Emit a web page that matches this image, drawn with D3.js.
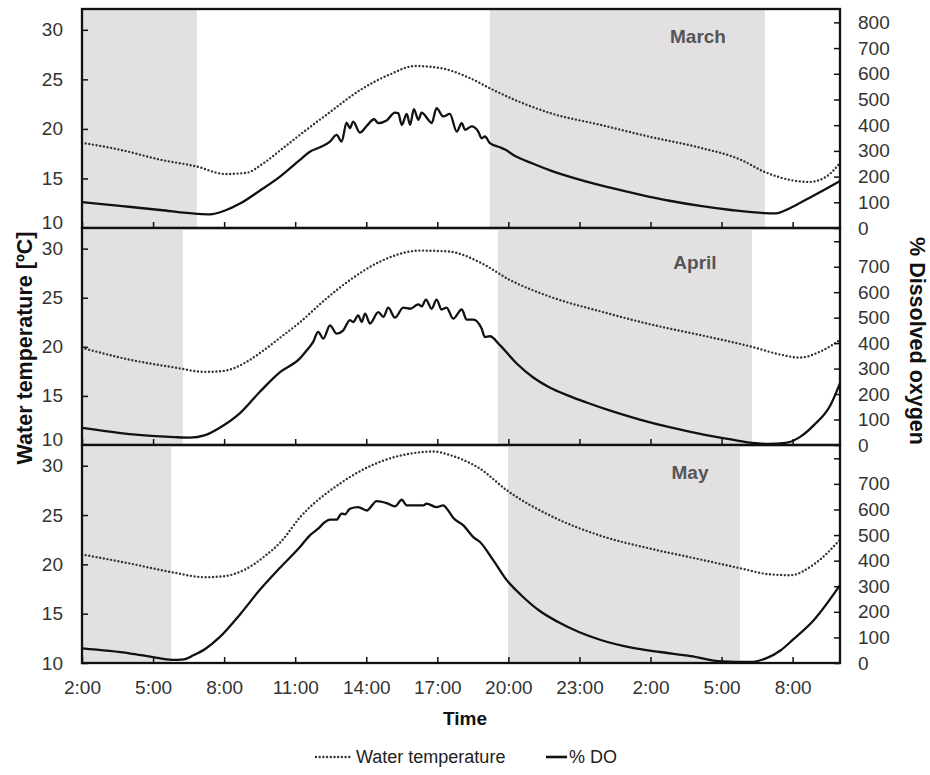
<!DOCTYPE html>
<html><head><meta charset="utf-8">
<script src="https://cdn.jsdelivr.net/npm/d3@7"></script>
<style>body{margin:0;background:#fff} text{font-family:"Liberation Sans",Arial,sans-serif}</style>
</head><body><svg id="c" width="930" height="775"></svg>
<script>
// ---------- data ----------
const months = ["March", "April", "May"];
const xTickHours = [0, 3, 6, 9, 12, 15, 18, 21, 24, 27, 30];
const xTickLabels = ["2:00","5:00","8:00","11:00","14:00","17:00","20:00","23:00","2:00","5:00","8:00"];
const tempTicks = [10, 15, 20, 25, 30];
const doTicks = [0, 100, 200, 300, 400, 500, 600, 700, 800];
const doLabelMax = [800, 700, 700];
// night (shaded) periods, hours since 2:00
const nightStart = [[0, 17.22], [0, 17.56], [0, 17.98]];
const nightEnd = [[4.85, 28.83], [4.26, 28.28], [3.77, 27.78]];

// March
const marchTempH = [0,1.6,3.3,4.85,6.04,6.9,7.7,8.4,9.2,10.47,11.73,13.0,14.06,15.1,16.4,17.22,18.5,19.76,21.9,23.98,26.1,27.8,28.83,29.9,30.7,31.4,32];
const marchTemp  = [18.6,17.9,16.9,16.2,15.45,15.55,16.6,17.9,19.4,21.7,23.9,25.5,26.35,26.15,25.1,24.1,22.7,21.6,20.4,19.2,18.1,16.9,15.65,14.85,14.65,15.15,16.55];
const marchDOH = [0,1.6,3.3,4.85,5.4,6.04,6.67,7.5,8.36,9.2,9.62,10.05,10.47,10.75,10.96,11.17,11.31,11.45,11.73,12.02,12.33,12.51,12.86,13.21,13.35,13.5,13.71,13.85,14.01,14.2,14.34,14.62,14.76,14.97,15.25,15.53,15.82,16.03,16.17,16.45,16.73,16.87,17.01,17.22,17.64,17.86,18.21,19.05,19.76,21.0,22.3,23.55,24.8,26.1,27.4,28.8,29.3,29.9,30.7,31.4,32];
const marchDO  = [101,86,70,55,53,68,95,145,200,265,297,314,336,362,336,410,388,414,371,397,423,408,418,449,447,401,444,401,462,421,449,421,408,466,434,444,375,408,382,395,375,349,356,330,314,305,284,250,224,188,157,130,106,86,70,58,57,78,117,152,183];

// April
const aprilTempH = [0,2.0,3.9,5.2,6.0,6.9,7.7,8.4,9.2,10.26,11.31,12.6,14.27,15.5,16.8,18.07,19.76,21.9,23.98,26.1,28.28,29.5,30.3,31.15,32];
const aprilTemp  = [19.9,18.7,17.9,17.45,17.55,18.4,19.7,21.0,22.5,24.8,26.8,28.7,29.8,29.7,28.6,26.8,25.1,23.6,22.3,21.2,20.0,19.2,18.9,19.5,20.7];
const aprilDOH = [0,2.0,3.9,4.56,5.2,5.8,6.67,7.5,8.36,9.2,9.49,9.76,9.97,10.19,10.47,10.75,11.03,11.31,11.45,11.66,11.81,11.95,12.16,12.51,12.72,12.93,13.21,13.56,13.85,14.2,14.34,14.52,14.76,14.97,15.18,15.39,15.67,16.03,16.24,16.52,16.87,17.01,17.22,17.64,18.35,19.05,19.76,20.5,21.3,22.3,23.55,24.8,26.1,27.4,28.3,29.0,29.7,30.3,30.9,31.6,32];
const aprilDO  = [67,43,31,29,39,67,125,208,286,340,372,405,444,418,470,437,450,490,483,509,483,516,477,522,503,539,500,539,535,552,544,571,535,571,532,539,496,532,492,492,457,424,427,392,320,265,225,195,167,135,100,70,44,22,8,4,8,31,78,157,243];

// May
const mayTempH = [0,2.0,3.8,5.2,6.0,6.9,7.7,8.4,9.2,10.9,12.7,14.06,14.8,15.5,16.8,17.94,19.76,21.9,23.98,26.1,27.8,29.0,29.9,30.9,32];
const mayTemp  = [21.0,20.1,19.2,18.7,18.8,19.5,20.8,22.3,24.75,28.2,30.5,31.3,31.45,31.1,29.7,27.5,24.95,22.9,21.6,20.5,19.6,19.0,18.9,20.0,22.5];
const mayDOH = [0,2.0,3.0,3.8,4.3,4.7,5.2,5.8,6.67,7.5,8.36,9.2,9.62,9.97,10.26,10.47,10.75,10.96,11.1,11.31,11.66,12.02,12.44,12.86,13.21,13.5,13.71,14.41,14.55,14.97,15.25,15.46,15.67,16.1,16.52,16.8,17.36,17.93,18.6,19.3,20.1,21.0,21.9,23.2,24.4,25.7,27.0,28.2,28.9,29.5,30.0,30.9,32];
const mayDO  = [57,38,23,12,14,30,55,100,190,285,372,453,499,525,551,560,560,584,581,603,609,596,633,625,612,638,616,616,623,609,616,596,568,538,492,473,402,324,260,205,160,120,90,60,43,27,6,4,19,50,90,168,304];

const tempH = [marchTempH, aprilTempH, mayTempH];
const tempV = [marchTemp, aprilTemp, mayTemp];
const doH = [marchDOH, aprilDOH, mayDOH];
const doV = [marchDO, aprilDO, mayDO];

// ---------- layout ----------
const svg = d3.select("#c");
const L = 82, R = 840;
const panelTop = [9, 228, 445], panelBot = [228, 445, 663];
const titleX = [698, 695, 690], titleY = [43, 269, 479];
const x = d3.scaleLinear().domain([0, 32]).range([L, R]);
const labelColor = "#333";
const FONT = "Liberation Sans, Arial, sans-serif";

months.forEach((m, i) => {
  const g = svg.append("g");
  const yT = d3.scaleLinear().domain([10, 32.1]).range([panelBot[i], panelTop[i]]);
  const yD = d3.scaleLinear().domain([0, 852]).range([panelBot[i], panelTop[i]]);

  // night shading
  nightStart[i].forEach((s, k) => {
    g.append("rect").attr("x", x(s)).attr("y", panelTop[i])
      .attr("width", x(nightEnd[i][k]) - x(s)).attr("height", panelBot[i] - panelTop[i])
      .attr("fill", "#e3e0e1");
  });

  // lines
  const tData = tempH[i].map((h, k) => [h, tempV[i][k]]);
  const dData = doH[i].map((h, k) => [h, doV[i][k]]);
  g.append("path").datum(tData)
    .attr("d", d3.line().x(d => x(d[0])).y(d => yT(d[1])).curve(d3.curveMonotoneX))
    .attr("fill", "none").attr("stroke", "#333").attr("stroke-width", 2.4)
    .attr("stroke-dasharray", "0,3.7").attr("stroke-linecap", "round");
  g.append("path").datum(dData)
    .attr("d", d3.line().x(d => x(d[0])).y(d => yD(d[1])).curve(d3.curveMonotoneX))
    .attr("fill", "none").attr("stroke", "#111").attr("stroke-width", 2.3)
    .attr("stroke-linejoin", "round");

  // left axis (ticks inside)
  const la = g.append("g").attr("transform", `translate(${L},0)`)
    .call(d3.axisLeft(yT).tickValues(tempTicks).tickSize(-6).tickPadding(19).tickFormat(d3.format("d")));
  la.select(".domain").remove();
  la.selectAll("line").attr("stroke", "#111").attr("stroke-width", 1.5);
  la.selectAll("text").attr("font-size", 19).attr("fill", labelColor).attr("font-family", FONT)
    .attr("dy", d => (d === 10 && i < 2) ? "0.0em" : "0.32em");

  // right axis
  const ra = g.append("g").attr("transform", `translate(${R},0)`)
    .call(d3.axisRight(yD).tickValues(doTicks).tickSize(-6).tickPadding(18)
      .tickFormat(d => d <= doLabelMax[i] ? d : ""));
  ra.select(".domain").remove();
  ra.selectAll("line").attr("stroke", "#111").attr("stroke-width", 1.5);
  ra.selectAll("text").attr("font-size", 19).attr("fill", labelColor).attr("font-family", FONT);

  // bottom ticks (inside)
  const ba = g.append("g").attr("transform", `translate(0,${panelBot[i]})`)
    .call(d3.axisBottom(x).tickValues(xTickHours).tickSize(-6).tickFormat((d, k) => i === 2 ? xTickLabels[k] : ""));
  ba.select(".domain").remove();
  ba.selectAll("line").attr("stroke", "#111").attr("stroke-width", 1.5);
  ba.selectAll("text").attr("font-size", 19).attr("fill", labelColor).attr("dy", "1.45em").attr("font-family", FONT);

  // frame
  g.append("rect").attr("x", L).attr("y", panelTop[i]).attr("width", R - L)
    .attr("height", panelBot[i] - panelTop[i]).attr("fill", "none")
    .attr("stroke", "#111").attr("stroke-width", 2.3);

  // month title
  g.append("text").attr("x", titleX[i]).attr("y", titleY[i]).attr("text-anchor", "middle")
    .attr("font-size", 19).attr("font-weight", "bold").attr("fill", "#555").text(m);
});

// axis titles
svg.append("text").attr("transform", "translate(32,348) rotate(-90)").attr("text-anchor", "middle")
  .attr("font-size", 21.5).attr("font-weight", "bold").attr("fill", "#111").text("Water temperature [ºC]");
svg.append("text").attr("transform", "translate(910,341) rotate(90)").attr("text-anchor", "middle")
  .attr("font-size", 21.5).attr("font-weight", "bold").attr("fill", "#111").text("% Dissolved oxygen");
svg.append("text").attr("x", 465).attr("y", 725).attr("text-anchor", "middle")
  .attr("font-size", 19).attr("font-weight", "bold").attr("fill", "#111").text("Time");

// legend
const lg = svg.append("g");
lg.append("line").attr("x1", 316).attr("x2", 352).attr("y1", 757).attr("y2", 757)
  .attr("stroke", "#333").attr("stroke-width", 2.4).attr("stroke-dasharray", "0,3.7").attr("stroke-linecap", "round");
lg.append("text").attr("x", 356).attr("y", 763).attr("font-size", 18).attr("fill", "#222").text("Water temperature");
lg.append("line").attr("x1", 546).attr("x2", 567).attr("y1", 757).attr("y2", 757)
  .attr("stroke", "#111").attr("stroke-width", 2.6);
lg.append("text").attr("x", 569).attr("y", 763).attr("font-size", 18).attr("fill", "#222").text("% DO");
</script></body></html>
